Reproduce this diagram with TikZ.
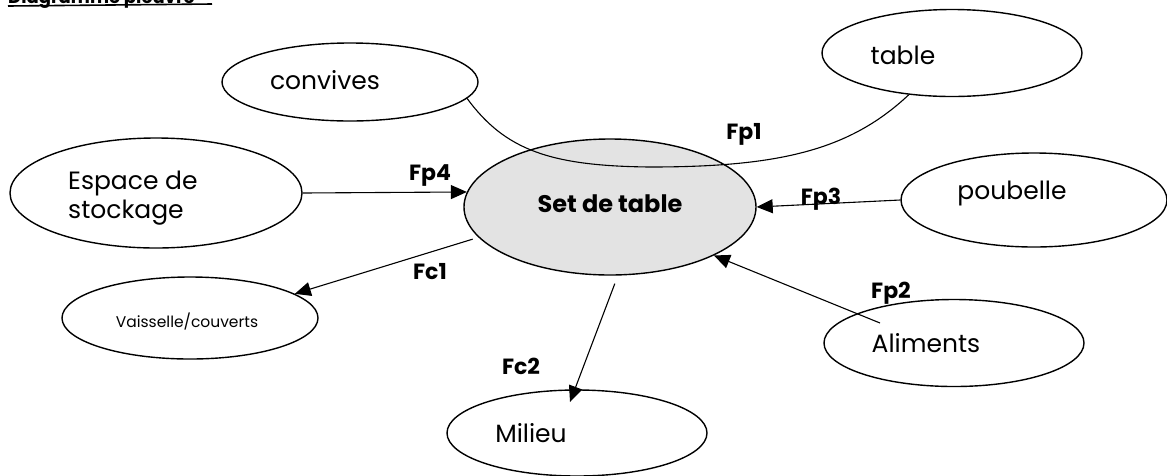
\documentclass[tikz,border=0pt]{standalone}
\usepackage{fontspec}
\setmainfont{Poppins}
\usetikzlibrary{arrows.meta,calc,shapes.geometric}
\begin{document}
\begin{tikzpicture}[x=1pt,y=-1pt,
  bubble/.style={draw,ellipse,line width=1.4pt,inner sep=0pt},
  txt/.style={font=\fontsize{25}{29}\selectfont,inner sep=0pt},
  flab/.style={font=\fontsize{22}{24}\selectfont\bfseries,inner sep=0pt},
  arr/.style={line width=1.1pt,-{Triangle[length=16pt,width=14pt]}},
  link/.style={line width=1.1pt}]
\useasboundingbox (0,0) rectangle (1167,475);
\clip (0,0) rectangle (1167,475);
% header (cut off at the top edge)
\node[font=\fontsize{18}{20}\selectfont\bfseries,anchor=base west,inner sep=0pt] (hdr) at (8,3) {Diagramme pieuvre};
\draw[line width=1.6pt] (8,6) -- (212,4);
% ellipses
\node[bubble,minimum width=256pt,minimum height=78pt] (con) at (350,82) {};
\node[bubble,minimum width=260pt,minimum height=87pt] (tab) at (952,53) {};
\node[bubble,minimum width=292pt,minimum height=110pt] (esp) at (156,193) {};
\node[bubble,minimum width=292pt,minimum height=136pt,fill=gray!22] (set) at (610,207) {};
\node[bubble,minimum width=266pt,minimum height=94pt] (pou) at (1034,200) {};
\node[bubble,minimum width=256pt,minimum height=82pt] (vai) at (190,318) {};
\node[bubble,minimum width=260pt,minimum height=87pt] (ali) at (954,343) {};
\node[bubble,minimum width=260pt,minimum height=86pt] (mil) at (577,433) {};
% texts
\node[txt] (tcon) at (325,80) {convives};
\node[txt] (ttab) at (903,55) {table};
\node[txt] (tpou) at (1012,193) {poubelle};
\node[txt] (tali) at (926,343) {Aliments};
\node[txt] (tmil) at (531,433) {Milieu};
\node[txt,align=left,anchor=west] (tesp) at (68,198) {Espace de\\stockage};
\node[font=\fontsize{15.5}{18}\selectfont,inner sep=0pt] (tvai) at (187,322) {Vaisselle/couverts};
\node[font=\fontsize{24}{27}\selectfont\bfseries,inner sep=0pt] (tset) at (610,204) {Set de table};
% connectors
\draw[link] (con.-8) .. controls (505,150) and (550,166) .. (650,167)
  .. controls (780,167) and (850,150) .. (tab.-136);
\draw[arr] (esp.east) -- (set.174);
\draw[arr] (pou.west) -- (set.east);
\coordinate (fp2s) at ($(ali.center)+(-74,-20)$);
\draw[arr] (fp2s) -- (set.-25.6);
\draw[arr,shorten <=6pt] (set.193) -- (vai.13);
\coordinate (fc2s) at ($(set.-86)+(0,8)$);
\coordinate (fc2e) at ($(mil.center)+(-7,-31)$);
\draw[arr] (fc2s) -- (fc2e);
% flow labels
\node[flab] (lfp1) at (744,134) {Fp1};
\node[flab] (lfp4) at (430,175) {Fp4};
\node[flab] (lfp3) at (821,199) {Fp3};
\node[flab] (lfp2) at (891,293) {Fp2};
\node[flab] (lfc1) at (430,272) {Fc1};
\node[flab] (lfc2) at (521,366) {Fc2};
\end{tikzpicture}
\end{document}
